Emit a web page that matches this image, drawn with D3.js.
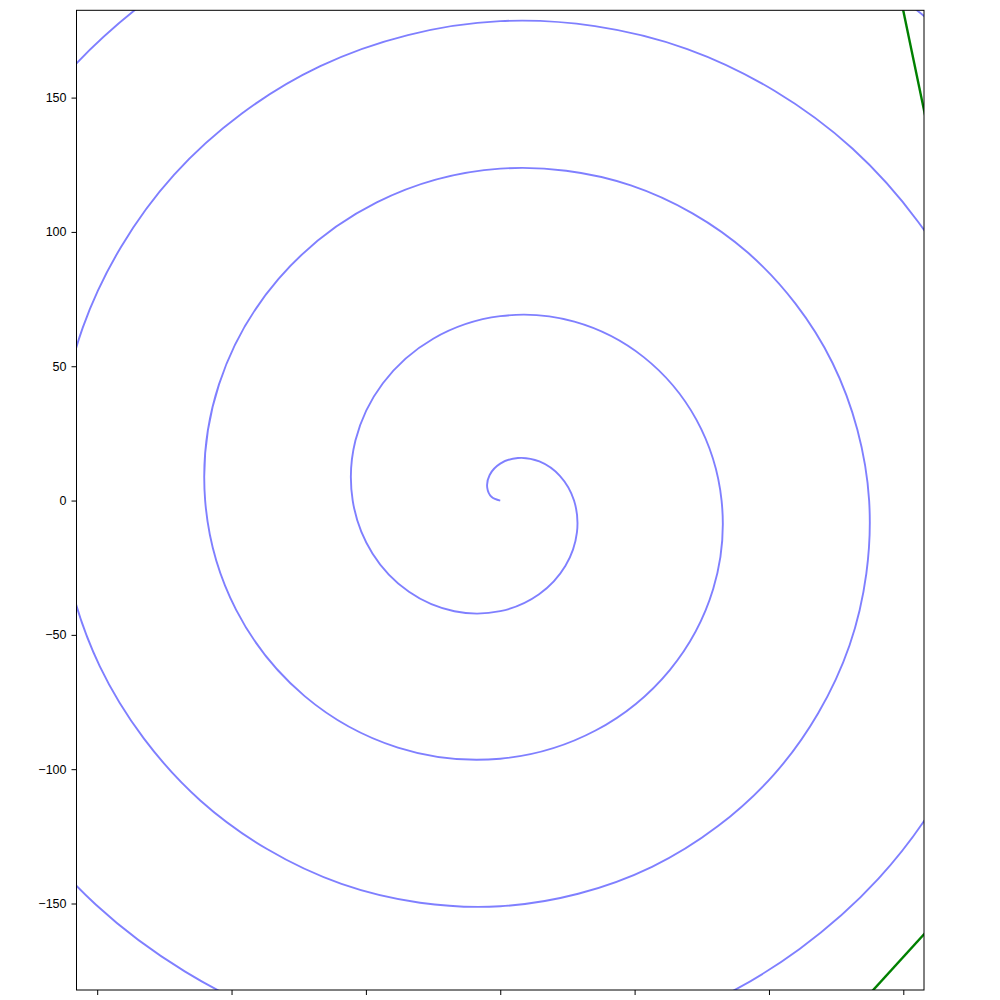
<!DOCTYPE html>
<html>
<head>
<meta charset="utf-8">
<script src="https://cdn.jsdelivr.net/npm/d3@7"></script>
<style>
  html, body { margin: 0; padding: 0; background: #fff; }
  svg { display: block; }
</style>
</head>
<body>
<svg id="chart" width="1000" height="1000"></svg>
<script>
// ---- data ----
const spiralX = [0, -3.17, -4.85, -3.94, 0, 6.57, 14.56, 22.19, 27.46, 28.54, 24.27, 14.45, 0, -17.08, -33.98, -47.56,
  -54.91, -53.90, -43.68, -24.96, 0, 27.58, 53.39, 72.93, 82.37, 79.27, 63.09, 35.46, 0, -38.09, -72.80, -98.29,
  -109.82, -104.64, -82.51, -45.97, 0, 48.60, 92.22, 123.66, 137.28, 130.00, 101.92, 56.48, 0, -59.10, -111.63, -149.02,
  -164.74, -155.37, -121.34, -66.98, 0, 69.61, 131.05, 174.39, 192.19, 180.73, 140.76, 77.49, 0, -80.12, -150.46, -199.77,
  -219.65, -206.10, -160.17, -88.00, 0, 90.63, 169.87, 225.13, 247.10];
const spiralY = [0, 1.31, 4.85, 9.52, 13.73, 15.85, 14.56, 9.19, 0, -11.82, -24.27, -34.88, -41.18, -41.22, -33.98, -19.70,
  0, 22.33, 43.68, 60.25, 68.64, 66.59, 53.39, 30.21, 0, -32.84, -63.09, -85.61, -96.10, -91.96, -72.80, -40.72,
  0, 43.34, 82.51, 110.98, 123.55, 117.32, 92.22, 51.22, 0, -53.85, -101.92, -136.35, -151.01, -142.69, -111.63, -61.73,
  0, 64.36, 121.34, 161.71, 178.46, 168.06, 131.05, 72.24, 0, -74.86, -140.76, -187.08, -205.92, -193.42, -150.46, -82.75,
  0, 85.37, 160.17, 212.44, 233.38, 218.79, 169.87, 93.25, 0];
const greenLineAX = [148.4, 160.0];
const greenLineAY = [190.0, 134.3];
const greenLineBX = [131.7, 160.0];
const greenLineBY = [-190.0, -158.9];
const yTickValues = [-150, -100, -50, 0, 50, 100, 150];
const xTickValues = [-150, -100, -50, 0, 50, 100, 150];
const xDomain = [-157.7, 157.7];
const yDomain = [-182.2, 182.5];

// ---- drawing ----
(function () {
  const svg = d3.select("#chart");
  const pL = 76.5, pR = 924, pT = 10.3, pB = 990;

  const x = d3.scaleLinear().domain(xDomain).range([pL, pR]);
  const y = d3.scaleLinear().domain(yDomain).range([pB, pT]);

  svg.append("defs").append("clipPath").attr("id", "plotclip")
    .append("rect")
    .attr("x", pL).attr("y", pT)
    .attr("width", pR - pL).attr("height", pB - pT);

  const plot = svg.append("g").attr("clip-path", "url(#plotclip)");

  const spiral = spiralX.map((v, i) => [v, spiralY[i]]);
  const line = d3.line().x(d => x(d[0])).y(d => y(d[1])).curve(d3.curveCatmullRom.alpha(0.5));

  plot.append("path")
    .datum(spiral)
    .attr("d", line)
    .attr("fill", "none")
    .attr("stroke", "blue")
    .attr("stroke-opacity", 0.5)
    .attr("stroke-width", 1.9)
    .attr("stroke-linejoin", "round");

  const straight = d3.line().x(d => x(d[0])).y(d => y(d[1]));
  [[greenLineAX, greenLineAY], [greenLineBX, greenLineBY]].forEach(([gxs, gys]) => {
    plot.append("path")
      .datum(gxs.map((v, i) => [v, gys[i]]))
      .attr("d", straight)
      .attr("fill", "none")
      .attr("stroke", "green")
      .attr("stroke-width", 2.4);
  });

  // axes
  const yAxis = d3.axisLeft(y).tickValues(yTickValues).tickSize(5).tickPadding(5)
    .tickFormat(d => d < 0 ? "\u2212" + Math.abs(d) : String(d));
  const gY = svg.append("g").attr("transform", `translate(${pL},0)`).call(yAxis);
  gY.select(".domain").remove();
  gY.selectAll("text").attr("font-family", "'Liberation Sans', Arial, sans-serif").attr("font-size", 12.5).attr("fill", "#000");
  gY.selectAll("line").attr("stroke", "#000");

  const xAxis = d3.axisBottom(x).tickValues(xTickValues).tickSize(5).tickFormat("");
  const gX = svg.append("g").attr("transform", `translate(0,${pB})`).call(xAxis);
  gX.select(".domain").remove();
  gX.selectAll("line").attr("stroke", "#000");

  // frame
  svg.append("rect")
    .attr("x", pL).attr("y", pT)
    .attr("width", pR - pL).attr("height", pB - pT)
    .attr("fill", "none").attr("stroke", "#000").attr("stroke-width", 1);
})();
</script>
</body>
</html>
